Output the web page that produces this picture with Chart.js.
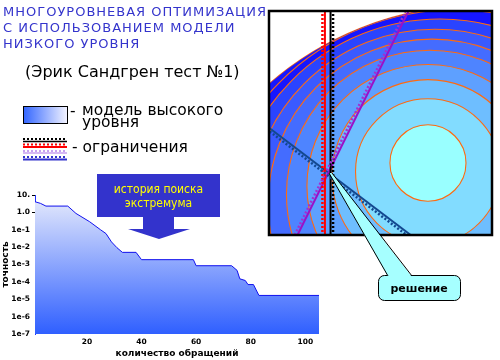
<!DOCTYPE html>
<html>
<head>
<meta charset="utf-8">
<script src="https://cdn.jsdelivr.net/npm/chart.js@4.4.1/dist/chart.umd.min.js"></script>
<style>
body { margin: 0; background: #fff; }
#lienzo { position: relative; width: 500px; height: 360px; overflow: hidden; font-family: "DejaVu Sans", sans-serif; }
#grafica, #contorno, #adornos { position: absolute; left: 0; top: 0; }
#contorno { left: 264px; top: 6px; }
.texto { position: absolute; white-space: nowrap; }
</style>
</head>
<body>
<div id="lienzo">
  <canvas id="grafica" width="500" height="360"></canvas>
  <canvas id="contorno" width="234" height="234"></canvas>

  <svg id="adornos" width="500" height="360">
    <defs>
      <linearGradient id="degradado">
        <stop offset="0" stop-color="#3366ff"/>
        <stop offset="1" stop-color="#f4f4ff"/>
      </linearGradient>
    </defs>
    <!-- flecha "история поиска экстремума" -->
    <polygon points="97,174 220,174 220,217 174,217 174,229 190,229 159,239 128,229 143,229 143,217 97,217" fill="#3333cc"/>
    <!-- globo "решение" -->
    <rect x="378.5" y="275.5" width="82" height="25" rx="6" fill="#a6ffff" stroke="#000"/>
    <polygon points="329,173 332,173 412,277 388,277" fill="#a6ffff"/>
    <line x1="329" y1="173" x2="388" y2="276" stroke="#000"/>
    <line x1="332" y1="173" x2="412" y2="276" stroke="#000"/>
    <!-- leyenda -->
    <rect x="23.5" y="106.5" width="44" height="17" fill="url(#degradado)" stroke="#000"/>
    <line x1="23" y1="139" x2="67" y2="139" stroke="#000" stroke-width="2" stroke-dasharray="2 2"/>
    <line x1="23" y1="141.5" x2="67" y2="141.5" stroke="#000" stroke-width="1.5"/>
    <line x1="23" y1="144.5" x2="67" y2="144.5" stroke="#ff0000" stroke-width="2" stroke-dasharray="2 2"/>
    <line x1="23" y1="147" x2="67" y2="147" stroke="#ff0000" stroke-width="2"/>
    <line x1="23" y1="151" x2="67" y2="151" stroke="#c8a0f0" stroke-width="2" stroke-dasharray="2 2"/>
    <line x1="23" y1="153" x2="67" y2="153" stroke="#c8a0f0" stroke-width="1.5"/>
    <line x1="23" y1="157" x2="67" y2="157" stroke="#3333cc" stroke-width="2" stroke-dasharray="2 2"/>
    <line x1="23" y1="159.5" x2="67" y2="159.5" stroke="#3333cc" stroke-width="2"/>
  </svg>

  <div class="texto" style="left:3px;top:3.5px;font-size:13px;line-height:16px;letter-spacing:1px;color:#3434cc">МНОГОУРОВНЕВАЯ ОПТИМИЗАЦИЯ<br>С ИСПОЛЬЗОВАНИЕМ МОДЕЛИ<br>НИЗКОГО УРОВНЯ</div>
  <div class="texto" style="left:25px;top:62.5px;font-size:16px;line-height:18px;color:#000">(Эрик Сандгрен тест №1)</div>
  <div class="texto" style="left:70px;top:104px;font-size:15.5px;line-height:15px;color:#000">-</div>
  <div class="texto" style="left:82px;top:103.5px;font-size:15.5px;line-height:12px;color:#000">модель высокого<br>уровня</div>
  <div class="texto" style="left:72px;top:140px;font-size:15.5px;line-height:15px;color:#000">- ограничения</div>
  <div class="texto" style="left:97px;top:181.5px;width:123px;text-align:center;font-family:'DejaVu Sans Condensed','DejaVu Sans',sans-serif;font-size:12px;line-height:14px;color:#ffff00">история поиска<br>экстремума</div>
  <div class="texto" style="left:378px;top:281.5px;width:82px;text-align:center;font-size:11px;font-weight:bold;line-height:13px;color:#000">решение</div>
</div>

<script>
// historia de la busqueda: numero de llamadas y precision alcanzada
var llamadas  = [1, 3, 5, 13, 16, 21, 25, 27, 29, 31, 33, 38, 40, 59, 60, 73, 75, 76, 78, 79, 81, 83, 105];
var precision = [4.1, 3.3, 2.3, 2.3, 0.87, 0.29, 0.10, 0.060, 0.020, 0.0093, 0.0050, 0.0050, 0.0019, 0.0019,
                 0.00085, 0.00085, 0.00046, 0.00015, 0.00012, 0.00007, 0.00007, 0.0000166, 0.0000166];
var ticksX = [20, 40, 60, 80, 100];
var ticksY = [1e-7, 1e-6, 1e-5, 1e-4, 1e-3, 1e-2, 1e-1, 1, 10];
var etiquetasY = ["1e-7", "1e-6", "1e-5", "1e-4", "1e-3", "1e-2", "1e-1", "1.0", "10."];

// curvas de nivel del modelo (centro y radio en unidades del dominio 0..10)
var nivelCentroX = [7.11, 7.11, 7.11, 7.11, 7.20, 7.29, 7.42, 7.64, 8.31];
var nivelCentroY = [3.23, 2.85, 2.65, 2.21, 1.84, 1.42, 0.93, 0.27, -1.06];
var nivelRadio   = [1.69, 3.22, 4.27, 5.38, 6.38, 7.29, 8.22, 9.33, 11.07];
var dominioCentro = [9.38, -4.07];
var dominioRadio = 14.27;

// restricciones (dos puntos cada una)
var restriccionRoja   = [[2.53, 0], [2.53, 10.2]];
var restriccionNegra  = [[2.78, 0], [2.78, 10.2]];
var restriccionMorada = [[1.29, 0], [6.27, 10]];
var restriccionAzul   = [[0, 4.82], [6.4, 0]];

var coloresNivel = ["#99ffff", "#82dcff", "#6ebeff", "#5ea0ff", "#4e84ff", "#446cff", "#3a5aff", "#2a44ff", "#1616ff"];
var FUENTE = "'DejaVu Sans', sans-serif";

function crearGraficaHistoria() {
    var ctx = document.getElementById('grafica');
    var puntos = [];
    for (let i = 0; i < llamadas.length; i++) {
        puntos.push({x: llamadas[i], y: precision[i]});
    }

    new Chart(ctx, {
        type: 'line',
        data: {
            datasets: [{
                data: puntos,
                borderColor: '#1010ee',
                borderWidth: 1,
                pointRadius: 0,
                tension: 0,
                fill: 'start',
                backgroundColor: function (context) {
                    var area = context.chart.chartArea;
                    if (!area) return null;
                    var g = context.chart.ctx.createLinearGradient(0, area.top, 0, area.bottom);
                    g.addColorStop(0, '#e8ecfc');
                    g.addColorStop(1, '#2f5fff');
                    return g;
                }
            }]
        },
        options: {
            responsive: false,
            animation: false,
            layout: {padding: {left: 0, top: 195, right: 181, bottom: 0}},
            plugins: {legend: {display: false}, tooltip: {enabled: false}},
            scales: {
                x: {
                    type: 'linear', min: 1, max: 105,
                    afterBuildTicks: function (s) { s.ticks = ticksX.map(v => ({value: v})); },
                    afterFit: function (s) { s.height = 26; },
                    grid: {display: false, drawTicks: false},
                    border: {display: false},
                    ticks: {color: '#000', padding: 4, maxRotation: 0, font: {family: FUENTE, size: 7.5, weight: 'bold'}},
                    title: {display: true, text: 'количество обращений', color: '#000', padding: {top: 0, bottom: 1},
                            font: {family: FUENTE, size: 9, weight: 'bold'}}
                },
                y: {
                    type: 'logarithmic', min: 1e-7, max: 10,
                    afterBuildTicks: function (s) { s.ticks = ticksY.map(v => ({value: v})); },
                    afterFit: function (s) { s.width = 35; },
                    grid: {drawOnChartArea: false, tickLength: 3,
                           color: c => (c.index >= 7 ? '#000' : 'rgba(0,0,0,0)')},
                    border: {color: '#2030ff', width: 1},
                    ticks: {color: '#000', padding: 2, autoSkip: false,
                            callback: (v, i) => etiquetasY[i],
                            font: {family: FUENTE, size: 7.5, weight: 'bold'}},
                    title: {display: true, text: 'точность', color: '#000', padding: {top: 0.5, bottom: 0},
                            font: {family: FUENTE, size: 9, weight: 'bold'}}
                }
            }
        }
    });
}

function trazarElipse(ctx, x, y, cx, cy, r) {
    var px = x.getPixelForValue(cx), py = y.getPixelForValue(cy);
    var rx = Math.abs(x.getPixelForValue(cx + r) - px);
    var ry = Math.abs(y.getPixelForValue(cy + r) - py);
    ctx.beginPath();
    ctx.ellipse(px, py, rx, ry, 0, 0, Math.PI * 2);
}

var pluginNiveles = {
    id: 'niveles',
    beforeDatasetsDraw: function (chart) {
        var ctx = chart.ctx, a = chart.chartArea, x = chart.scales.x, y = chart.scales.y;
        ctx.save();
        ctx.beginPath();
        ctx.rect(a.left, a.top, a.width, a.height);
        ctx.clip();
        trazarElipse(ctx, x, y, dominioCentro[0], dominioCentro[1], dominioRadio);
        ctx.strokeStyle = '#ff6a10';
        ctx.lineWidth = 1.5;
        ctx.stroke();
        ctx.clip();
        ctx.fillStyle = coloresNivel[coloresNivel.length - 1];
        ctx.fillRect(a.left, a.top, a.width, a.height);
        for (let i = nivelRadio.length - 1; i >= 0; i--) {
            trazarElipse(ctx, x, y, nivelCentroX[i], nivelCentroY[i], nivelRadio[i]);
            ctx.fillStyle = coloresNivel[i];
            ctx.fill();
        }
        ctx.strokeStyle = '#ff6a10';
        ctx.lineWidth = 1.1;
        for (let i = 0; i < nivelRadio.length; i++) {
            trazarElipse(ctx, x, y, nivelCentroX[i], nivelCentroY[i], nivelRadio[i]);
            ctx.stroke();
        }
        ctx.restore();
    },
    afterDatasetsDraw: function (chart) {
        // marcas de un lado de cada restriccion
        var ctx = chart.ctx, a = chart.chartArea;
        ctx.save();
        ctx.beginPath();
        ctx.rect(a.left, a.top, a.width, a.height);
        ctx.clip();
        chart.data.datasets.forEach(function (ds, i) {
            var p = chart.getDatasetMeta(i).data;
            var dx = p[1].x - p[0].x, dy = p[1].y - p[0].y;
            var largo = Math.sqrt(dx * dx + dy * dy);
            var nx = -dy / largo * ds.lado * 2.5, ny = dx / largo * ds.lado * 2.5;
            ctx.beginPath();
            ctx.moveTo(p[0].x + nx, p[0].y + ny);
            ctx.lineTo(p[1].x + nx, p[1].y + ny);
            ctx.setLineDash([2, 2]);
            ctx.lineWidth = 2.5;
            ctx.strokeStyle = ds.colorMarca;
            ctx.stroke();
        });
        ctx.restore();
    },
    afterDraw: function (chart) {
        var ctx = chart.ctx, a = chart.chartArea;
        ctx.save();
        ctx.strokeStyle = '#000';
        ctx.lineWidth = 2.5;
        ctx.strokeRect(a.left + 1, a.top + 1, a.width - 2, a.height - 2);
        ctx.restore();
    }
};

function lineaRestriccion(puntos, color, marca, lado) {
    return {
        type: 'line',
        data: puntos.map(p => ({x: p[0], y: p[1]})),
        borderColor: color,
        borderWidth: 2,
        pointRadius: 0,
        fill: false,
        colorMarca: marca,
        lado: lado
    };
}

function crearGraficaContorno() {
    var ctx = document.getElementById('contorno');
    new Chart(ctx, {
        type: 'scatter',
        data: {
            datasets: [
                lineaRestriccion(restriccionRoja, '#ff0000', '#ff0000', -1),
                lineaRestriccion(restriccionNegra, '#000000', '#000000', 1),
                lineaRestriccion(restriccionMorada, '#9a10c8', '#a030d0', -1),
                lineaRestriccion(restriccionAzul, '#134890', '#134890', 1)
            ]
        },
        options: {
            responsive: false,
            animation: false,
            layout: {padding: {left: 4, top: 4, right: 5, bottom: 4}},
            plugins: {legend: {display: false}, tooltip: {enabled: false}},
            scales: {
                x: {type: 'linear', min: 0, max: 10, display: false},
                y: {type: 'linear', min: 0, max: 10, display: false}
            }
        },
        plugins: [pluginNiveles]
    });
}

crearGraficaHistoria();
crearGraficaContorno();
</script>
</body>
</html>
